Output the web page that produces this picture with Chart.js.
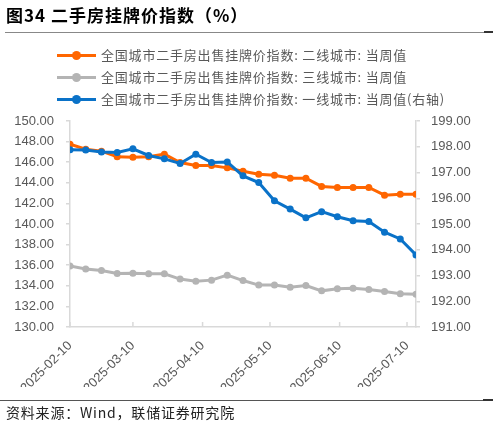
<!DOCTYPE html>
<html lang="zh">
<head>
<meta charset="UTF-8">
<title>二手房挂牌价指数</title>
<script src="https://cdn.jsdelivr.net/npm/chart.js"></script>
<style>
    body {
        margin: 0;
        width: 499px;
        height: 425px;
        position: relative;
        overflow: hidden;
        background: #fff;
        font-family: "Noto Sans CJK SC", sans-serif;
    }
    #chart { position: absolute; left: 0; top: 0; }
    .title {
        position: absolute; left: 6px; top: 4px;
        font-size: 17px; font-weight: bold; color: #000;
        line-height: 22px; white-space: nowrap; letter-spacing: 1px;
    }
    .rule { position: absolute; height: 1px; background: #888; }
    .rule.dark { height: 2px; background: #333; }
    .legend { position: absolute; left: 57px; top: 44px; }
    .legend-item {
        position: relative; height: 22px; line-height: 22px;
        font-size: 13px; color: #595959; white-space: nowrap;
        padding-left: 44px; letter-spacing: 0.8px;
    }
    .legend-item .swatch {
        position: absolute; left: 0; top: 10px; width: 39px; height: 3px;
    }
    .legend-item .dot {
        position: absolute; left: 15px; top: 7px; width: 9px; height: 9px; border-radius: 50%;
    }
    .source {
        position: absolute; left: 6px; top: 402px;
        font-size: 14px; color: #222; white-space: nowrap; letter-spacing: 0.8px;
        line-height: 20px;
    }
</style>
</head>
<body>
<canvas id="chart" width="499" height="425"></canvas>
<div class="title">图34 二手房挂牌价指数（%）</div>
<div class="rule" style="left:5px; top:32px; width:480px;"></div>
<div class="rule dark" style="left:484px; top:31px; width:9px;"></div>
<div class="legend" id="legend"></div>
<div class="rule" style="left:0; top:400px; width:484px; background:#555;"></div>
<div class="rule dark" style="left:483px; top:399px; width:10px;"></div>
<div class="source">资料来源：Wind，联储证券研究院</div>

<script>
// weekly observation dates
const dates = [
    '2025-02-10', '2025-02-17', '2025-02-24', '2025-03-03', '2025-03-10', '2025-03-17',
    '2025-03-24', '2025-03-31', '2025-04-07', '2025-04-14', '2025-04-21', '2025-04-28',
    '2025-05-05', '2025-05-12', '2025-05-19', '2025-05-26', '2025-06-02', '2025-06-09',
    '2025-06-16', '2025-06-23', '2025-06-30', '2025-07-07', '2025-07-14'
];

// 二线城市 (left axis)
const tier2 = [
    147.74, 147.26, 147.07, 146.52, 146.49, 146.52, 146.78, 145.97, 145.68, 145.68,
    145.45, 145.13, 144.84, 144.74, 144.45, 144.45, 143.65, 143.55, 143.55, 143.55,
    142.80, 142.90, 142.90
];

// 三线城市 (left axis)
const tier3 = [
    135.93, 135.64, 135.48, 135.19, 135.23, 135.16, 135.16, 134.65, 134.45, 134.55,
    135.03, 134.51, 134.07, 134.07, 133.87, 134.03, 133.51, 133.71, 133.77, 133.64,
    133.45, 133.22, 133.19
];

// 一线城市 (right axis)
const tier1 = [
    197.88, 197.87, 197.80, 197.78, 197.92, 197.66, 197.53, 197.35, 197.71, 197.39,
    197.41, 196.87, 196.61, 195.90, 195.58, 195.24, 195.48, 195.28, 195.13, 195.10,
    194.68, 194.42, 193.80
];

const seriesNames = [
    '全国城市二手房出售挂牌价指数: 二线城市: 当周值',
    '全国城市二手房出售挂牌价指数: 三线城市: 当周值',
    '全国城市二手房出售挂牌价指数: 一线城市: 当周值(右轴)'
];
const seriesColors = ['#FF6600', '#B4B4B4', '#0A72C8'];

const xTickLabels = ['2025-02-10', '2025-03-10', '2025-04-10', '2025-05-10', '2025-06-10', '2025-07-10'];

const DAY = 86400000;
const start = Date.parse(dates[0]);
const toDay = (s) => Math.round((Date.parse(s) - start) / DAY);
const xs = dates.map(toDay);
const tickDays = xTickLabels.map(toDay);

function points(values) {
    return values.map((v, i) => ({ x: xs[i], y: v }));
}

// legend built from the series names
const legendEl = document.getElementById('legend');
seriesNames.forEach((name, i) => {
    const item = document.createElement('div');
    item.className = 'legend-item';
    item.innerHTML = '<span class="swatch" style="background:' + seriesColors[i] + '"></span>' +
        '<span class="dot" style="background:' + seriesColors[i] + '"></span>' + name;
    legendEl.appendChild(item);
});

// tick marks on the x axis point up into the plot
const innerTicks = {
    id: 'innerTicks',
    afterDraw(chart) {
        const { ctx, scales } = chart;
        const x = scales.x;
        ctx.save();
        ctx.strokeStyle = '#d9d9d9';
        ctx.lineWidth = 1.5;
        tickDays.forEach((d) => {
            const px = x.getPixelForValue(d);
            ctx.beginPath();
            ctx.moveTo(px, x.top);
            ctx.lineTo(px, x.top - 5);
            ctx.stroke();
        });
        ctx.restore();
    }
};

function lineDataset(label, values, color, axis, order) {
    return {
        label: label,
        data: points(values),
        yAxisID: axis,
        borderColor: color,
        backgroundColor: color,
        borderWidth: 3,
        pointRadius: 3.5,
        pointHoverRadius: 3.5,
        pointBorderWidth: 0,
        tension: 0,
        order: order
    };
}

const tickFont = { family: '"Liberation Sans", Arial, sans-serif', size: 13 };

new Chart(document.getElementById('chart').getContext('2d'), {
    type: 'line',
    data: {
        datasets: [
            lineDataset(seriesNames[0], tier2, seriesColors[0], 'yL', 1),
            lineDataset(seriesNames[1], tier3, seriesColors[1], 'yL', 2),
            lineDataset(seriesNames[2], tier1, seriesColors[2], 'yR', 0)
        ]
    },
    options: {
        responsive: false,
        animation: false,
        devicePixelRatio: 1,
        layout: { padding: { top: 121, bottom: 38, left: 0, right: 0 } },
        plugins: {
            legend: { display: false },
            tooltip: { enabled: false }
        },
        scales: {
            x: {
                type: 'linear',
                min: 0,
                max: xs[xs.length - 1],
                grid: { display: false },
                border: { color: '#d9d9d9', width: 1.5 },
                afterBuildTicks(scale) {
                    scale.ticks = tickDays.map((d) => ({ value: d }));
                },
                afterFit(scale) { scale.height = 60; },
                ticks: {
                    autoSkip: false,
                    minRotation: 45,
                    maxRotation: 45,
                    padding: 3,
                    color: '#595959',
                    font: tickFont,
                    callback(value) {
                        const i = tickDays.indexOf(value);
                        return i >= 0 ? xTickLabels[i] : '';
                    }
                }
            },
            yL: {
                position: 'left',
                min: 130,
                max: 150,
                grid: { drawOnChartArea: false, color: '#d9d9d9', tickLength: 4, lineWidth: 1.5 },
                border: { color: '#d9d9d9', width: 1.5 },
                afterFit(scale) { scale.width = 70; },
                ticks: {
                    stepSize: 2,
                    padding: 12,
                    color: '#595959',
                    font: tickFont,
                    callback: (v) => v.toFixed(2)
                }
            },
            yR: {
                position: 'right',
                min: 191,
                max: 199,
                grid: { drawOnChartArea: false, color: '#d9d9d9', tickLength: 4, lineWidth: 1.5 },
                border: { color: '#d9d9d9', width: 1.5 },
                afterFit(scale) { scale.width = 83; },
                ticks: {
                    stepSize: 1,
                    padding: 11,
                    color: '#595959',
                    font: tickFont,
                    callback: (v) => v.toFixed(2)
                }
            }
        }
    },
    plugins: [innerTicks]
});
</script>
</body>
</html>
